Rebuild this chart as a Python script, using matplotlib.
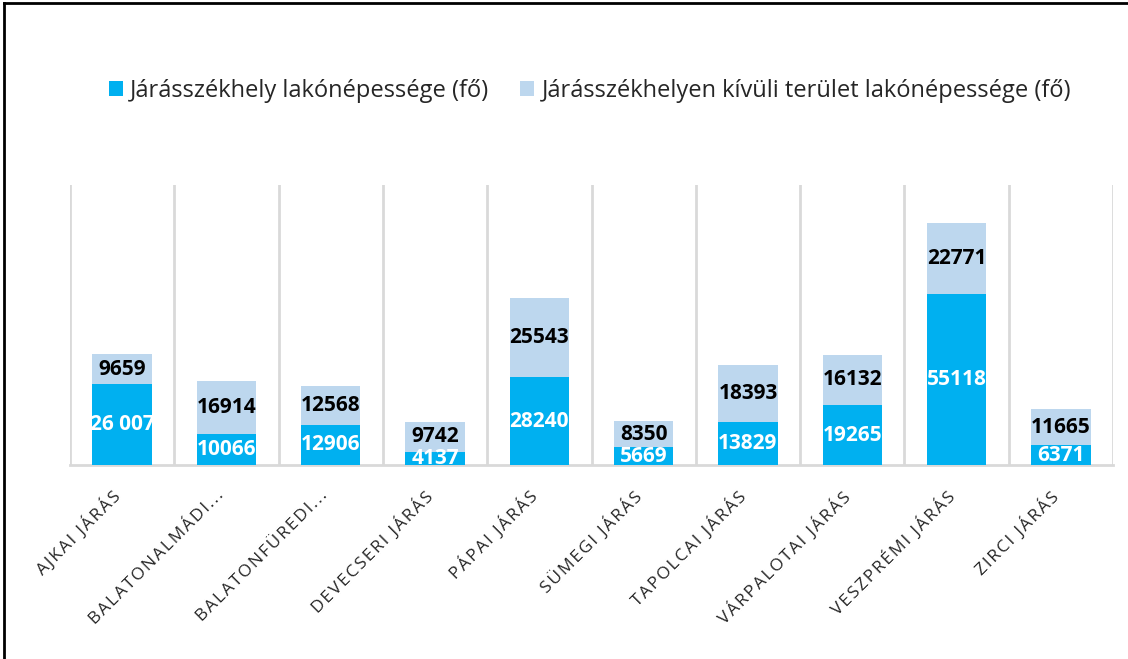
import matplotlib
matplotlib.use("Agg")
import matplotlib.pyplot as plt
from matplotlib.lines import Line2D
from matplotlib.transforms import ScaledTranslation
import numpy as np

categories = ["AJKAI JÁRÁS", "BALATONALMÁDI...", "BALATONFÜREDI...", "DEVECSERI JÁRÁS",
              "PÁPAI JÁRÁS", "SÜMEGI JÁRÁS", "TAPOLCAI JÁRÁS", "VÁRPALOTAI JÁRÁS",
              "VESZPRÉMI JÁRÁS", "ZIRCI JÁRÁS"]
seat_pop = [26007, 10066, 12906, 4137, 28240, 5669, 13829, 19265, 55118, 6371]
seat_labels = ["26 007", "10066", "12906", "4137", "28240", "5669", "13829", "19265", "55118", "6371"]
outside_pop = [9659, 16914, 12568, 9742, 25543, 8350, 18393, 16132, 22771, 11665]
series_names = ["Járásszékhely lakónépessége (fő)",
                "Járásszékhelyen kívüli terület lakónépessége (fő)"]

dark = "#00B0F0"
light = "#BDD7EE"
font = "Open Sans"

fig = plt.figure(figsize=(11.28, 6.59), dpi=100)
ax = fig.add_axes([70/1128, 1-465/659, (1113-70)/1128, (465-185)/659])

x = np.arange(len(categories))
w = 0.57
b1 = ax.bar(x, seat_pop, w, color=dark, zorder=3, label=series_names[0])
b2 = ax.bar(x, outside_pop, w, bottom=seat_pop, color=light, zorder=3, label=series_names[1])

for i in range(len(categories)):
    ax.text(x[i], seat_pop[i]/2, seat_labels[i], ha="center", va="center", color="white",
            fontsize=15, fontweight="bold", family=font, zorder=4, clip_on=True)
    ax.text(x[i], seat_pop[i] + outside_pop[i]/2, str(outside_pop[i]), ha="center", va="center",
            color="black", fontsize=15, fontweight="bold", family=font, zorder=4)

ax.set_xlim(-0.5, len(categories)-0.5)
ax.set_ylim(0, 90000)
ax.set_yticks([])
ax.set_xticks(np.arange(-0.5, len(categories), 1), minor=True)
ax.grid(True, which="minor", axis="x", color="#D9D9D9", linewidth=2, zorder=0)
ax.tick_params(axis="x", which="both", length=0)
for s in ["top", "right", "left"]:
    ax.spines[s].set_visible(False)
ax.spines["bottom"].set_color("#D9D9D9")
ax.spines["bottom"].set_linewidth(2)

spaced = ["\u200a".join(list(c)) for c in categories]
ax.set_xticks(x)
ax.set_xticklabels(spaced, rotation=45, ha="right", rotation_mode="anchor",
                   fontsize=12.5, family=[font, "DejaVu Sans"], color="#262626")
ax.tick_params(axis="x", pad=16)
offset = ScaledTranslation(-11/100, 0, fig.dpi_scale_trans)
for lbl in ax.get_xticklabels():
    lbl.set_transform(lbl.get_transform() + offset)

leg = fig.legend(handles=[b1, b2], labels=series_names, loc="center",
                 bbox_to_anchor=(590/1128, 1-91/659), ncol=2, frameon=False,
                 prop={"family": font, "size": 17}, handlelength=0.6, handleheight=0.6,
                 handletextpad=0.3, columnspacing=1.3)
for t in leg.get_texts():
    t.set_color("#262626")

fig.add_artist(Line2D([4/1128, 4/1128], [0, 1-3/659], transform=fig.transFigure, color="black", lw=2))
fig.add_artist(Line2D([4/1128, 1], [1-3/659, 1-3/659], transform=fig.transFigure, color="black", lw=2))

fig.savefig("out.png", dpi=100)
